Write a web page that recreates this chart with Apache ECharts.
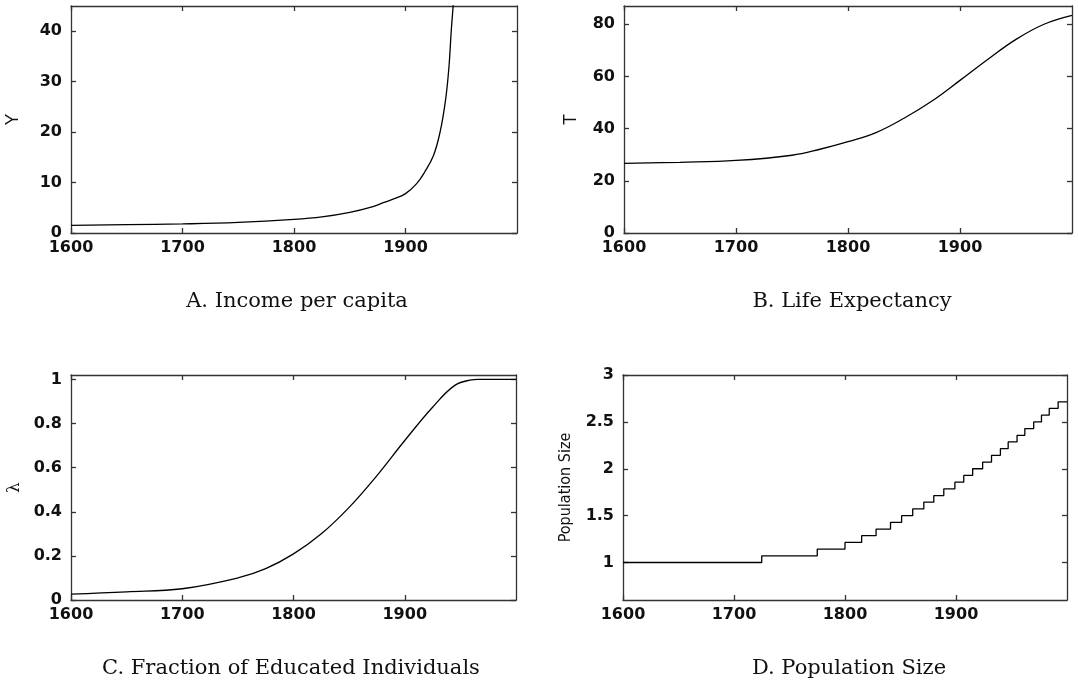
<!DOCTYPE html>
<html lang="en">
<head>
  <meta charset="UTF-8">
  <title>Simulated paths</title>
  <script src="https://cdn.jsdelivr.net/npm/echarts@6/dist/echarts.min.js"></script>
  <style>
    html,body{padding:0;margin:0;background:#fff;}
    #box{width:1078px;height:683px;}
  </style>
</head>
<body>
  <div id="box"></div>
  <script>
    // A. income per capita
    const incomeYears = [1600,1650,1700,1750,1800,1825,1850,1870,1880,1890,1900,1910,1917,1925,1931,1936,1939,1941,1943,1945]
    const incomeValues = [1.5,1.65,1.8,2.1,2.7,3.2,4.1,5.2,6.0,6.8,7.8,9.8,12,15.3,20,26.5,33,40,46,55]
    // B. life expectancy
    const lifeYears = [1600,1650,1700,1750,1775,1800,1825,1850,1875,1900,1925,1950,1975,2000]
    const lifeValues = [26.7,27.1,27.8,29.8,32.1,35.0,38.5,44.0,50.6,58.5,66.6,74.2,80.0,83.4]
    // C. fraction of educated individuals
    const eduYears = [1600,1650,1700,1750,1775,1800,1825,1850,1875,1900,1925,1945,1960,1965,2000]
    const eduValues = [0.027,0.037,0.051,0.10,0.142,0.209,0.30,0.42,0.564,0.723,0.874,0.973,0.998,1.0,1.0]
    // D. population size (steps)
    const popYears = [1600,1725,1775,1800,1815,1828,1841,1851,1861,1871,1880,1889,1899,1907,1915,1924,1932,1940,1947,1955,1962,1970,1977,1984,1992,2000]
    const popValues = [1.0,1.071,1.143,1.214,1.286,1.357,1.429,1.5,1.571,1.643,1.714,1.786,1.857,1.929,2.0,2.071,2.143,2.214,2.286,2.357,2.429,2.5,2.571,2.643,2.714,2.714]

    const xLabels = [1600,1700,1800,1900]
    const yLabelsA = [0,10,20,30,40]
    const yLabelsB = [0,20,40,60,80]
    const yLabelsC = [0,0.2,0.4,0.6,0.8,1]
    const yLabelsD = [1,1.5,2,2.5,3]
    const yNames = ['Y','T','λ','Population Size']
    const captions = ['A. Income per capita','B. Life Expectancy','C. Fraction of Educated Individuals','D. Population Size']

    const frame = {color:'#333',width:1.3}
    const tickFont = {fontFamily:'DejaVu Sans',fontWeight:'bold',fontSize:16,color:'#111',formatter:(v)=>String(v)}

    const grids = [
      {left:71,top:6,width:446,height:227,outerBoundsMode:'none'},
      {left:624,top:6,width:448,height:227,outerBoundsMode:'none'},
      {left:71,top:375,width:445,height:225,outerBoundsMode:'none'},
      {left:623,top:375,width:444,height:225,outerBoundsMode:'none'}
    ]
    const yRanges = [[0,45],[0,87],[0,1.02],[0.6,3]]
    const yLabelSets = [yLabelsA,yLabelsB,yLabelsC,yLabelsD]
    const nameStyles = [
      {fontFamily:'Liberation Sans',fontSize:18,color:'#111'},
      {fontFamily:'Liberation Sans',fontSize:18,color:'#111'},
      {fontFamily:'DejaVu Serif',fontSize:17,color:'#111'},
      {fontFamily:"'DejaVu Sans Condensed','Liberation Sans'",fontSize:16,color:'#111'}
    ]
    const nameGaps = [49,44,48,49]
    const captionPos = [[297,291],[852,291],[291,658],[849,658]]

    let xAxes = [], yAxes = [], titles = []
    grids.forEach((g,i)=>{
      xAxes.push({
        type:'value',gridIndex:i,min:1600,max:2000,position:'bottom',
        axisLine:{show:true,onZero:false,lineStyle:frame},
        axisTick:{show:true,inside:true,length:5,lineStyle:frame,customValues:xLabels},
        axisLabel:Object.assign({margin:7,customValues:xLabels},tickFont),
        splitLine:{show:false}
      })
      xAxes.push({
        type:'value',gridIndex:i,min:1600,max:2000,position:'top',
        axisLine:{show:true,onZero:false,lineStyle:frame},
        axisTick:{show:true,inside:true,length:5,lineStyle:frame,customValues:xLabels},
        axisLabel:{show:false},
        splitLine:{show:false}
      })
      yAxes.push({
        type:'value',gridIndex:i,min:yRanges[i][0],max:yRanges[i][1],position:'left',
        name:yNames[i],nameLocation:'middle',nameGap:nameGaps[i],nameTextStyle:nameStyles[i],
        axisLine:{show:true,onZero:false,lineStyle:frame},
        axisTick:{show:true,inside:true,length:5,lineStyle:frame,customValues:yLabelSets[i]},
        axisLabel:Object.assign({margin:9,customValues:yLabelSets[i]},tickFont),
        splitLine:{show:false}
      })
      yAxes.push({
        type:'value',gridIndex:i,min:yRanges[i][0],max:yRanges[i][1],position:'right',
        axisLine:{show:true,onZero:false,lineStyle:frame},
        axisTick:{show:true,inside:true,length:5,lineStyle:frame,customValues:yLabelSets[i]},
        axisLabel:{show:false},
        splitLine:{show:false}
      })
      titles.push({
        text:captions[i],left:captionPos[i][0],top:captionPos[i][1],textAlign:'center',padding:0,
        textStyle:{fontFamily:'DejaVu Serif',fontWeight:'normal',fontSize:21,color:'#111'}
      })
    })

    const pairs = (xs,ys)=>xs.map((x,k)=>[x,ys[k]])
    const lineBase = {type:'line',symbol:'none',color:'#000',lineStyle:{width:1.3,color:'#000'},clip:true,animation:false}

    let option = {
      animation:false,
      title:titles,
      grid:grids,
      xAxis:xAxes,
      yAxis:yAxes,
      series:[
        Object.assign({xAxisIndex:0,yAxisIndex:0,smooth:0.4,data:pairs(incomeYears,incomeValues)},lineBase),
        Object.assign({xAxisIndex:2,yAxisIndex:2,smooth:0.4,data:pairs(lifeYears,lifeValues)},lineBase),
        Object.assign({xAxisIndex:4,yAxisIndex:4,smooth:0.4,data:pairs(eduYears,eduValues)},lineBase),
        Object.assign({xAxisIndex:6,yAxisIndex:6,step:'end',data:pairs(popYears,popValues)},lineBase)
      ]
    }
    let myChart = echarts.init(document.getElementById('box'))
    if(myChart){myChart.setOption(option)}
  </script>
</body>
</html>
